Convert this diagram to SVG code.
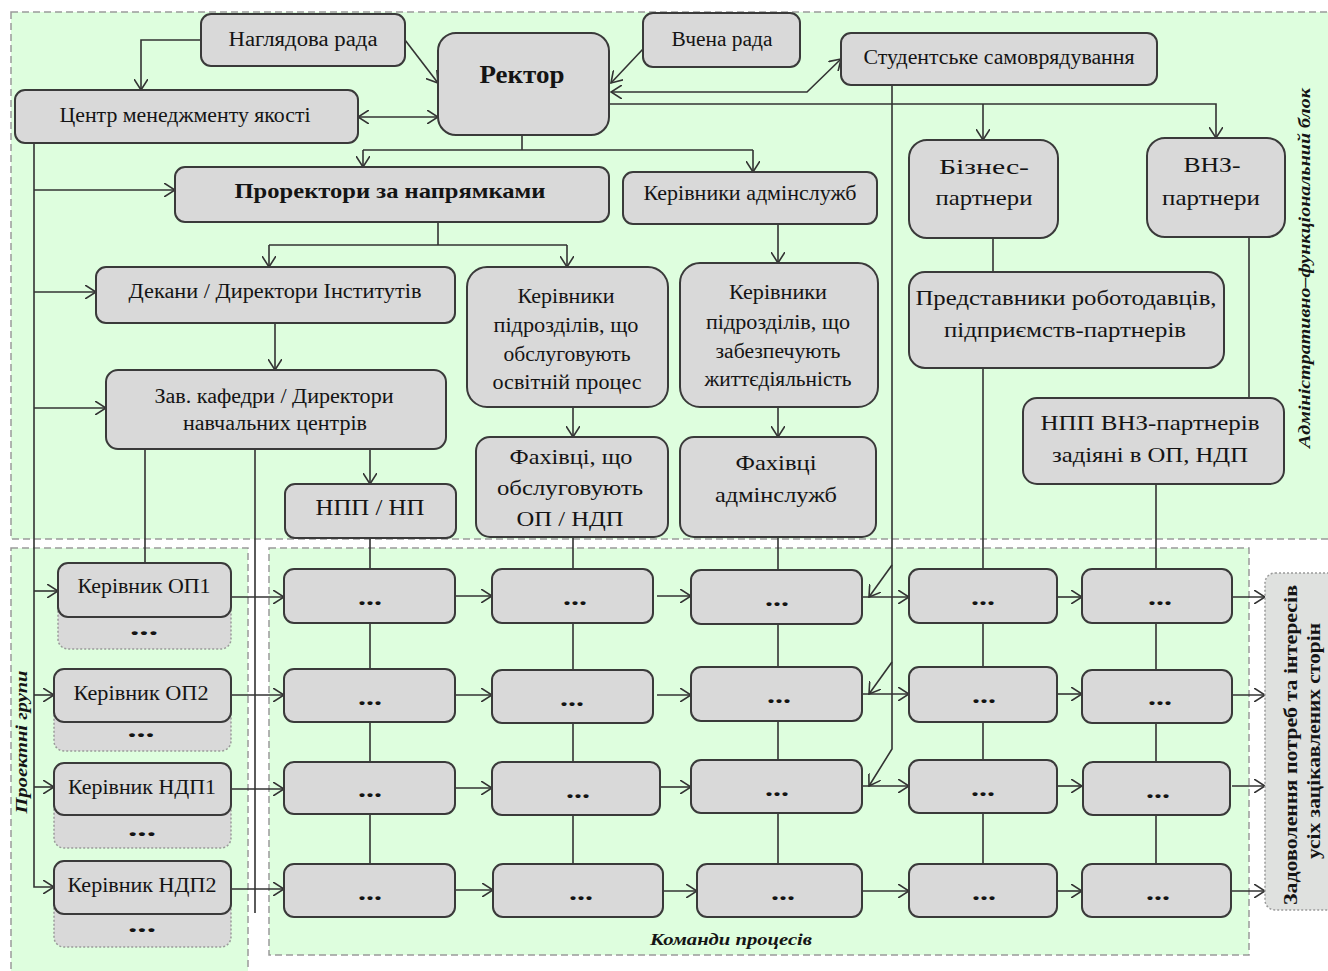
<svg xmlns="http://www.w3.org/2000/svg" width="1328" height="971" viewBox="0 0 1328 971">
<style>
.bg{fill:#ffffff}
.region{fill:#defede;stroke:#9a9a9a;stroke-width:1.5;stroke-dasharray:7 4}
.box{fill:#d9d9d9;stroke:#3a3a3a;stroke-width:2}
.back{fill:#d9d9d9;stroke:#9a9a9a;stroke-width:1.5;stroke-dasharray:2 2}
.side{fill:#dfe1df;stroke:#9a9a9a;stroke-width:1.5;stroke-dasharray:2 2}
.c{stroke:#333;stroke-width:1.6;fill:none}
.a{marker-end:url(#ah)}
.aa{marker-start:url(#ah);marker-end:url(#ah)}
text{font-family:"Liberation Serif","Times New Roman",serif;fill:#141414;text-anchor:middle}
.s19{font-size:20px}
.s21{font-size:22px}
.b{font-weight:bold}
.lbl{font-size:16px;font-weight:bold;font-style:italic}
.dots{font-size:24px;font-weight:bold}
</style>
<defs>
<marker id="ah" viewBox="0 0 12 14" refX="11" refY="7" markerWidth="12" markerHeight="14" markerUnits="userSpaceOnUse" orient="auto-start-reverse">
<path d="M0,0 L11,7 L0,14" fill="none" stroke="#333" stroke-width="1.6"/>
</marker>
</defs>
<rect class="bg" x="0" y="0" width="1328" height="971"/>
<g id="regions">
<rect class="region" x="11" y="12" width="1330" height="527"/>
<rect class="region" x="11" y="548" width="237" height="430"/>
<rect class="region" x="269" y="548" width="980" height="407"/>
</g>
<g id="connectors">
<path class="c a" d="M201,40 H141 V90"/>
<path class="c a" d="M405,40 L438,83"/>
<path class="c a" d="M643,49 L611,83"/>
<path class="c aa" d="M358,117 H438"/>
<path class="c aa" d="M611,92 H807 L841,59"/>
<path class="c a" d="M609,104 H1216 V138"/>
<path class="c a" d="M983,104 V140"/>
<path class="c" d="M522,135 V150 M363,150 H753"/>
<path class="c a" d="M363,150 V167"/>
<path class="c a" d="M753,150 V172"/>
<path class="c" d="M438,222 V245 M269,245 H567"/>
<path class="c a" d="M269,245 V267"/>
<path class="c a" d="M567,245 V267"/>
<path class="c a" d="M778,224 V263"/>
<path class="c a" d="M275,323 V370"/>
<path class="c a" d="M370,449 V484"/>
<path class="c" d="M145,449 V563"/>
<path class="c" d="M255,449 V913"/>
<path class="c a" d="M573,407 V437"/>
<path class="c a" d="M778,407 V437"/>
<path class="c" d="M993,238 V272"/>
<path class="c" d="M1249,237 V398"/>
<path class="c a" d="M34,143 V887 H54"/>
<path class="c a" d="M34,190 H175"/>
<path class="c a" d="M34,292 H96"/>
<path class="c a" d="M34,408 H106"/>
<path class="c a" d="M34,591 H58"/>
<path class="c a" d="M34,695 H54"/>
<path class="c a" d="M34,787 H54"/>
<path class="c" d="M370,538 V864"/>
<path class="c" d="M573,537 V864"/>
<path class="c" d="M778,537 V864"/>
<path class="c" d="M983,368 V864"/>
<path class="c" d="M1156,484 V864"/>
<path class="c a" d="M231,597 H284"/>
<path class="c a" d="M455,596 H492"/>
<path class="c a" d="M657,596 H691"/>
<path class="c a" d="M862,597 H909"/>
<path class="c a" d="M1057,597 H1082"/>
<path class="c a" d="M1232,597 H1265"/>
<path class="c a" d="M231,695 H284"/>
<path class="c a" d="M455,695 H492"/>
<path class="c a" d="M657,695 H691"/>
<path class="c a" d="M862,694 H909"/>
<path class="c a" d="M1057,694 H1082"/>
<path class="c a" d="M1232,695 H1265"/>
<path class="c a" d="M231,789 H284"/>
<path class="c a" d="M455,788 H492"/>
<path class="c a" d="M660,787 H691"/>
<path class="c a" d="M862,786 H909"/>
<path class="c a" d="M1057,786 H1082"/>
<path class="c a" d="M1232,786 H1265"/>
<path class="c a" d="M231,889 H284"/>
<path class="c a" d="M455,890 H493"/>
<path class="c a" d="M663,891 H697"/>
<path class="c a" d="M862,891 H909"/>
<path class="c a" d="M1057,891 H1082"/>
<path class="c a" d="M1232,891 H1265"/>
<path class="c a" d="M892,85 V749 L869,786"/>
<path class="c a" d="M892,565 L869,597"/>
<path class="c a" d="M892,662 L869,694"/>
</g>
<g id="n-naglyadova"><rect class="box" x="201" y="14" width="204" height="52" rx="10"/><text class="s19" x="303" y="46" textLength="149" lengthAdjust="spacingAndGlyphs">Наглядова рада</text></g>
<g id="n-rektor"><rect class="box" x="438" y="33" width="171" height="102" rx="18"/><text class="b" style="font-size:26px" x="522" y="83" textLength="85" lengthAdjust="spacingAndGlyphs">Ректор</text></g>
<g id="n-vchena"><rect class="box" x="643" y="13" width="157" height="54" rx="10"/><text class="s19" x="722" y="46" textLength="101" lengthAdjust="spacingAndGlyphs">Вчена рада</text></g>
<g id="n-student"><rect class="box" x="841" y="33" width="316" height="52" rx="10"/><text class="s19" x="999" y="64" textLength="271" lengthAdjust="spacingAndGlyphs">Студентське самоврядування</text></g>
<g id="n-centr"><rect class="box" x="15" y="90" width="343" height="53" rx="10"/><text class="s19" x="185" y="122" textLength="251" lengthAdjust="spacingAndGlyphs">Центр менеджменту якості</text></g>
<g id="n-prorektory"><rect class="box" x="175" y="167" width="434" height="55" rx="10"/><text class="b" style="font-size:21px" x="390" y="198" textLength="311" lengthAdjust="spacingAndGlyphs">Проректори за напрямками</text></g>
<g id="n-adminsluzhb"><rect class="box" x="623" y="172" width="254" height="52" rx="10"/><text class="s19" x="750" y="200" textLength="213" lengthAdjust="spacingAndGlyphs">Керівники адмінслужб</text></g>
<g id="n-biznes"><rect class="box" x="909" y="140" width="149" height="98" rx="18"/><text class="s21" x="984" y="174" textLength="90" lengthAdjust="spacingAndGlyphs">Бізнес-</text><text class="s21" x="984" y="205" textLength="97" lengthAdjust="spacingAndGlyphs">партнери</text></g>
<g id="n-vnz"><rect class="box" x="1147" y="138" width="138" height="99" rx="18"/><text class="s21" x="1212" y="172" textLength="57" lengthAdjust="spacingAndGlyphs">ВНЗ-</text><text class="s21" x="1211" y="205" textLength="98" lengthAdjust="spacingAndGlyphs">партнери</text></g>
<g id="n-dekany"><rect class="box" x="96" y="267" width="359" height="56" rx="10"/><text class="s19" x="275" y="298" textLength="293" lengthAdjust="spacingAndGlyphs">Декани / Директори Інститутів</text></g>
<g id="n-zav"><rect class="box" x="106" y="370" width="340" height="79" rx="12"/><text class="s19" x="274" y="403" textLength="239" lengthAdjust="spacingAndGlyphs">Зав. кафедри / Директори</text><text class="s19" x="275" y="430" textLength="184" lengthAdjust="spacingAndGlyphs">навчальних центрів</text></g>
<g id="n-npp"><rect class="box" x="285" y="484" width="171" height="54" rx="10"/><text class="s21" style="font-size:23px" x="370" y="515" textLength="109" lengthAdjust="spacingAndGlyphs">НПП / НП</text></g>
<g id="n-ker-op"><rect class="box" x="467" y="267" width="201" height="140" rx="20"/><text class="s19" x="566" y="303" textLength="97" lengthAdjust="spacingAndGlyphs">Керівники</text><text class="s19" x="566" y="332" textLength="145" lengthAdjust="spacingAndGlyphs">підрозділів, що</text><text class="s19" x="567" y="361" textLength="127" lengthAdjust="spacingAndGlyphs">обслуговують</text><text class="s19" x="567" y="389" textLength="149" lengthAdjust="spacingAndGlyphs">освітній процес</text></g>
<g id="n-ker-zab"><rect class="box" x="680" y="263" width="198" height="144" rx="20"/><text class="s19" x="778" y="299" textLength="98" lengthAdjust="spacingAndGlyphs">Керівники</text><text class="s19" x="778" y="329" textLength="144" lengthAdjust="spacingAndGlyphs">підрозділів, що</text><text class="s19" x="778" y="358" textLength="125" lengthAdjust="spacingAndGlyphs">забезпечують</text><text class="s19" x="778" y="386" textLength="147" lengthAdjust="spacingAndGlyphs">життєдіяльність</text></g>
<g id="n-fah-op"><rect class="box" x="476" y="437" width="192" height="100" rx="14"/><text class="s21" x="571" y="464" textLength="123" lengthAdjust="spacingAndGlyphs">Фахівці, що</text><text class="s21" x="570" y="495" textLength="146" lengthAdjust="spacingAndGlyphs">обслуговують</text><text class="s21" x="570" y="526" textLength="107" lengthAdjust="spacingAndGlyphs">ОП / НДП</text></g>
<g id="n-fah-admin"><rect class="box" x="680" y="437" width="196" height="100" rx="14"/><text class="s21" x="776" y="470" textLength="81" lengthAdjust="spacingAndGlyphs">Фахівці</text><text class="s21" x="776" y="502" textLength="122" lengthAdjust="spacingAndGlyphs">адмінслужб</text></g>
<g id="n-predst"><rect class="box" x="909" y="272" width="315" height="96" rx="16"/><text class="s21" x="1066" y="305" textLength="301" lengthAdjust="spacingAndGlyphs">Представники роботодавців,</text><text class="s21" x="1065" y="337" textLength="242" lengthAdjust="spacingAndGlyphs">підприємств-партнерів</text></g>
<g id="n-npp-vnz"><rect class="box" x="1023" y="398" width="261" height="86" rx="14"/><text class="s21" x="1150" y="430" textLength="219" lengthAdjust="spacingAndGlyphs">НПП ВНЗ-партнерів</text><text class="s21" x="1150" y="462" textLength="196" lengthAdjust="spacingAndGlyphs">задіяні в ОП, НДП</text></g>
<g id="n-ker-op1"><rect class="back" x="58" y="600" width="173" height="49" rx="10"/><text class="dots" x="144" y="635" textLength="28" lengthAdjust="spacingAndGlyphs">...</text><rect class="box" x="58" y="563" width="173" height="54" rx="10"/><text class="s19" x="144" y="593" textLength="133" lengthAdjust="spacingAndGlyphs">Керівник ОП1</text></g>
<g id="n-ker-op2"><rect class="back" x="54" y="700" width="177" height="51" rx="10"/><text class="dots" x="141" y="737" textLength="27" lengthAdjust="spacingAndGlyphs">...</text><rect class="box" x="54" y="669" width="177" height="53" rx="10"/><text class="s19" x="141" y="700" textLength="135" lengthAdjust="spacingAndGlyphs">Керівник ОП2</text></g>
<g id="n-ker-ndp1"><rect class="back" x="54" y="800" width="177" height="48" rx="10"/><text class="dots" x="142" y="836" textLength="28" lengthAdjust="spacingAndGlyphs">...</text><rect class="box" x="54" y="763" width="177" height="52" rx="10"/><text class="s19" x="142" y="794" textLength="148" lengthAdjust="spacingAndGlyphs">Керівник НДП1</text></g>
<g id="n-ker-ndp2"><rect class="back" x="54" y="895" width="177" height="52" rx="10"/><text class="dots" x="142" y="932" textLength="28" lengthAdjust="spacingAndGlyphs">...</text><rect class="box" x="54" y="861" width="177" height="53" rx="10"/><text class="s19" x="142" y="892" textLength="149" lengthAdjust="spacingAndGlyphs">Керівник НДП2</text></g>
<g id="n-r1c1"><rect class="box" x="284" y="569" width="171" height="54" rx="10"/><text class="dots" x="370" y="605" textLength="24" lengthAdjust="spacingAndGlyphs">...</text></g>
<g id="n-r1c2"><rect class="box" x="492" y="569" width="161" height="54" rx="10"/><text class="dots" x="575" y="605" textLength="24" lengthAdjust="spacingAndGlyphs">...</text></g>
<g id="n-r1c3"><rect class="box" x="691" y="570" width="171" height="54" rx="10"/><text class="dots" x="777" y="606" textLength="24" lengthAdjust="spacingAndGlyphs">...</text></g>
<g id="n-r1c4"><rect class="box" x="909" y="569" width="148" height="54" rx="10"/><text class="dots" x="983" y="605" textLength="24" lengthAdjust="spacingAndGlyphs">...</text></g>
<g id="n-r1c5"><rect class="box" x="1082" y="569" width="150" height="54" rx="10"/><text class="dots" x="1160" y="605" textLength="24" lengthAdjust="spacingAndGlyphs">...</text></g>
<g id="n-r2c1"><rect class="box" x="284" y="669" width="171" height="53" rx="10"/><text class="dots" x="370" y="705" textLength="24" lengthAdjust="spacingAndGlyphs">...</text></g>
<g id="n-r2c2"><rect class="box" x="492" y="670" width="161" height="53" rx="10"/><text class="dots" x="572" y="706" textLength="24" lengthAdjust="spacingAndGlyphs">...</text></g>
<g id="n-r2c3"><rect class="box" x="691" y="667" width="171" height="54" rx="10"/><text class="dots" x="779" y="703" textLength="24" lengthAdjust="spacingAndGlyphs">...</text></g>
<g id="n-r2c4"><rect class="box" x="909" y="667" width="148" height="55" rx="10"/><text class="dots" x="984" y="703" textLength="24" lengthAdjust="spacingAndGlyphs">...</text></g>
<g id="n-r2c5"><rect class="box" x="1082" y="670" width="150" height="53" rx="10"/><text class="dots" x="1160" y="705" textLength="24" lengthAdjust="spacingAndGlyphs">...</text></g>
<g id="n-r3c1"><rect class="box" x="284" y="762" width="171" height="52" rx="10"/><text class="dots" x="370" y="797" textLength="24" lengthAdjust="spacingAndGlyphs">...</text></g>
<g id="n-r3c2"><rect class="box" x="492" y="762" width="168" height="53" rx="10"/><text class="dots" x="578" y="798" textLength="24" lengthAdjust="spacingAndGlyphs">...</text></g>
<g id="n-r3c3"><rect class="box" x="691" y="760" width="171" height="53" rx="10"/><text class="dots" x="777" y="796" textLength="24" lengthAdjust="spacingAndGlyphs">...</text></g>
<g id="n-r3c4"><rect class="box" x="909" y="760" width="148" height="53" rx="10"/><text class="dots" x="983" y="796" textLength="24" lengthAdjust="spacingAndGlyphs">...</text></g>
<g id="n-r3c5"><rect class="box" x="1083" y="762" width="147" height="53" rx="10"/><text class="dots" x="1158" y="798" textLength="24" lengthAdjust="spacingAndGlyphs">...</text></g>
<g id="n-r4c1"><rect class="box" x="284" y="864" width="171" height="53" rx="10"/><text class="dots" x="370" y="900" textLength="24" lengthAdjust="spacingAndGlyphs">...</text></g>
<g id="n-r4c2"><rect class="box" x="493" y="864" width="170" height="53" rx="10"/><text class="dots" x="581" y="900" textLength="24" lengthAdjust="spacingAndGlyphs">...</text></g>
<g id="n-r4c3"><rect class="box" x="697" y="864" width="165" height="53" rx="10"/><text class="dots" x="783" y="900" textLength="24" lengthAdjust="spacingAndGlyphs">...</text></g>
<g id="n-r4c4"><rect class="box" x="909" y="864" width="148" height="53" rx="10"/><text class="dots" x="984" y="900" textLength="24" lengthAdjust="spacingAndGlyphs">...</text></g>
<g id="n-r4c5"><rect class="box" x="1082" y="864" width="149" height="53" rx="10"/><text class="dots" x="1158" y="900" textLength="24" lengthAdjust="spacingAndGlyphs">...</text></g>
<g id="n-zadovolennya"><rect class="side" x="1265" y="573" width="80" height="337" rx="10"/><text class="b" style="font-size:19px" transform="translate(1297,745) rotate(-90)" x="0" y="0" textLength="320" lengthAdjust="spacingAndGlyphs">Задоволення потреб та інтересів</text><text class="b" style="font-size:19px" transform="translate(1320,741) rotate(-90)" x="0" y="0" textLength="236" lengthAdjust="spacingAndGlyphs">усіх зацікавлених сторін</text></g>
<g id="labels">
<text class="lbl" transform="translate(1310,268) rotate(-90)" x="0" y="0" textLength="360" lengthAdjust="spacingAndGlyphs">Адміністративно–функціональний  блок</text>
<text class="lbl" transform="translate(27,742) rotate(-90)" x="0" y="0" textLength="143" lengthAdjust="spacingAndGlyphs">Проектні групи</text>
<text class="lbl" x="731" y="945" textLength="162" lengthAdjust="spacingAndGlyphs">Команди процесів</text>
</g>
</svg>
